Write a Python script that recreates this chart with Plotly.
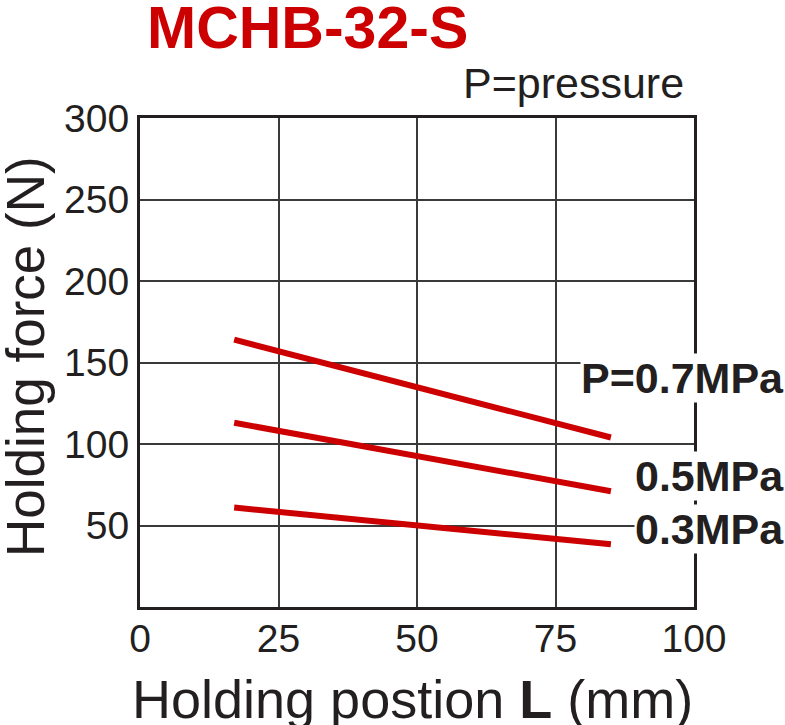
import plotly.graph_objects as go

# ---- data ----
position_mm = [17, 85]
force_07 = [164, 104]
force_05 = [113, 71]
force_03 = [61, 38.5]
series_labels = ["P=0.7MPa", "0.5MPa", "0.3MPa"]
x_ticks = [0, 25, 50, 75, 100]
y_ticks = [50, 100, 150, 200, 250, 300]

W, H = 785, 725
L, R, T, B = 140, 91, 118, 118
PW, PH = W - L - R, H - T - B

def px(xp):
    return (xp - L) / PW

def py(yp):
    return (H - B - yp) / PH

RED = "#cc0000"
INK = "#231f20"
SANS = "Liberation Sans, Arial, sans-serif"

fig = go.Figure()
for ys, name in zip([force_07, force_05, force_03], series_labels):
    fig.add_trace(go.Scatter(x=position_mm, y=ys, mode="lines", name=name,
                             line=dict(color=RED, width=6), showlegend=False,
                             hoverinfo="skip"))

fig.update_layout(
    width=W, height=H,
    margin=dict(l=L, r=R, t=T, b=B, autoexpand=False),
    paper_bgcolor="white", plot_bgcolor="white",
    font=dict(family=SANS, color=INK),
)
fig.update_xaxes(
    range=[0, 100], tickvals=x_ticks, ticktext=[str(v) for v in x_ticks],
    showgrid=True, gridcolor="#3a3a3a", gridwidth=1.5,
    showline=True, linecolor=INK, linewidth=3, mirror=True,
    ticks="", zeroline=False, tickfont=dict(size=39, family=SANS, color=INK),
    ticklabelstandoff=-5,
    automargin=False,
)
fig.update_yaxes(
    range=[0, 300], tickvals=y_ticks, ticktext=[str(v) for v in y_ticks],
    showgrid=True, gridcolor="#3a3a3a", gridwidth=1.5,
    showline=True, linecolor=INK, linewidth=3, mirror=True,
    ticks="", zeroline=False, tickfont=dict(size=39, family=SANS, color=INK),
    ticklabelstandoff=0,
    automargin=False,
)

ann = [
    dict(text="<b>MCHB-32-S</b>", x=px(145), y=py(28), xanchor="left", yanchor="middle",
         font=dict(size=59, family=SANS, color=RED)),
    dict(text="P=pressure", x=px(686), y=py(83), xanchor="right", yanchor="middle",
         font=dict(size=43, family=SANS, color=INK)),
    dict(text="<b>%s</b>" % series_labels[0], x=px(785), y=py(378), xanchor="right", yanchor="middle",
         font=dict(size=43, family=SANS, color=INK), bgcolor="white", borderpad=0),
    dict(text="<b>%s</b>" % series_labels[1], x=px(785), y=py(476), xanchor="right", yanchor="middle",
         font=dict(size=43, family=SANS, color=INK), bgcolor="white", borderpad=0),
    dict(text="<b>%s</b>" % series_labels[2], x=px(785), y=py(529), xanchor="right", yanchor="middle",
         font=dict(size=43, family=SANS, color=INK), bgcolor="white", borderpad=0),
    # axis titles
    dict(text="Holding postion <b>L</b> (mm)", x=px(412), y=py(699), xanchor="center", yanchor="middle",
         font=dict(size=54, family=SANS, color=INK)),
    dict(text="Holding force (N)", x=px(25), y=py(357), xanchor="center", yanchor="middle",
         textangle=-90, font=dict(size=53, family=SANS, color=INK)),
]
for a in ann:
    a.update(xref="paper", yref="paper", showarrow=False)
fig.update_layout(annotations=ann)

fig.write_html("out.html", config={"displayModeBar": False},
               post_script="document.body.style.margin='0';document.body.style.padding='0';")
